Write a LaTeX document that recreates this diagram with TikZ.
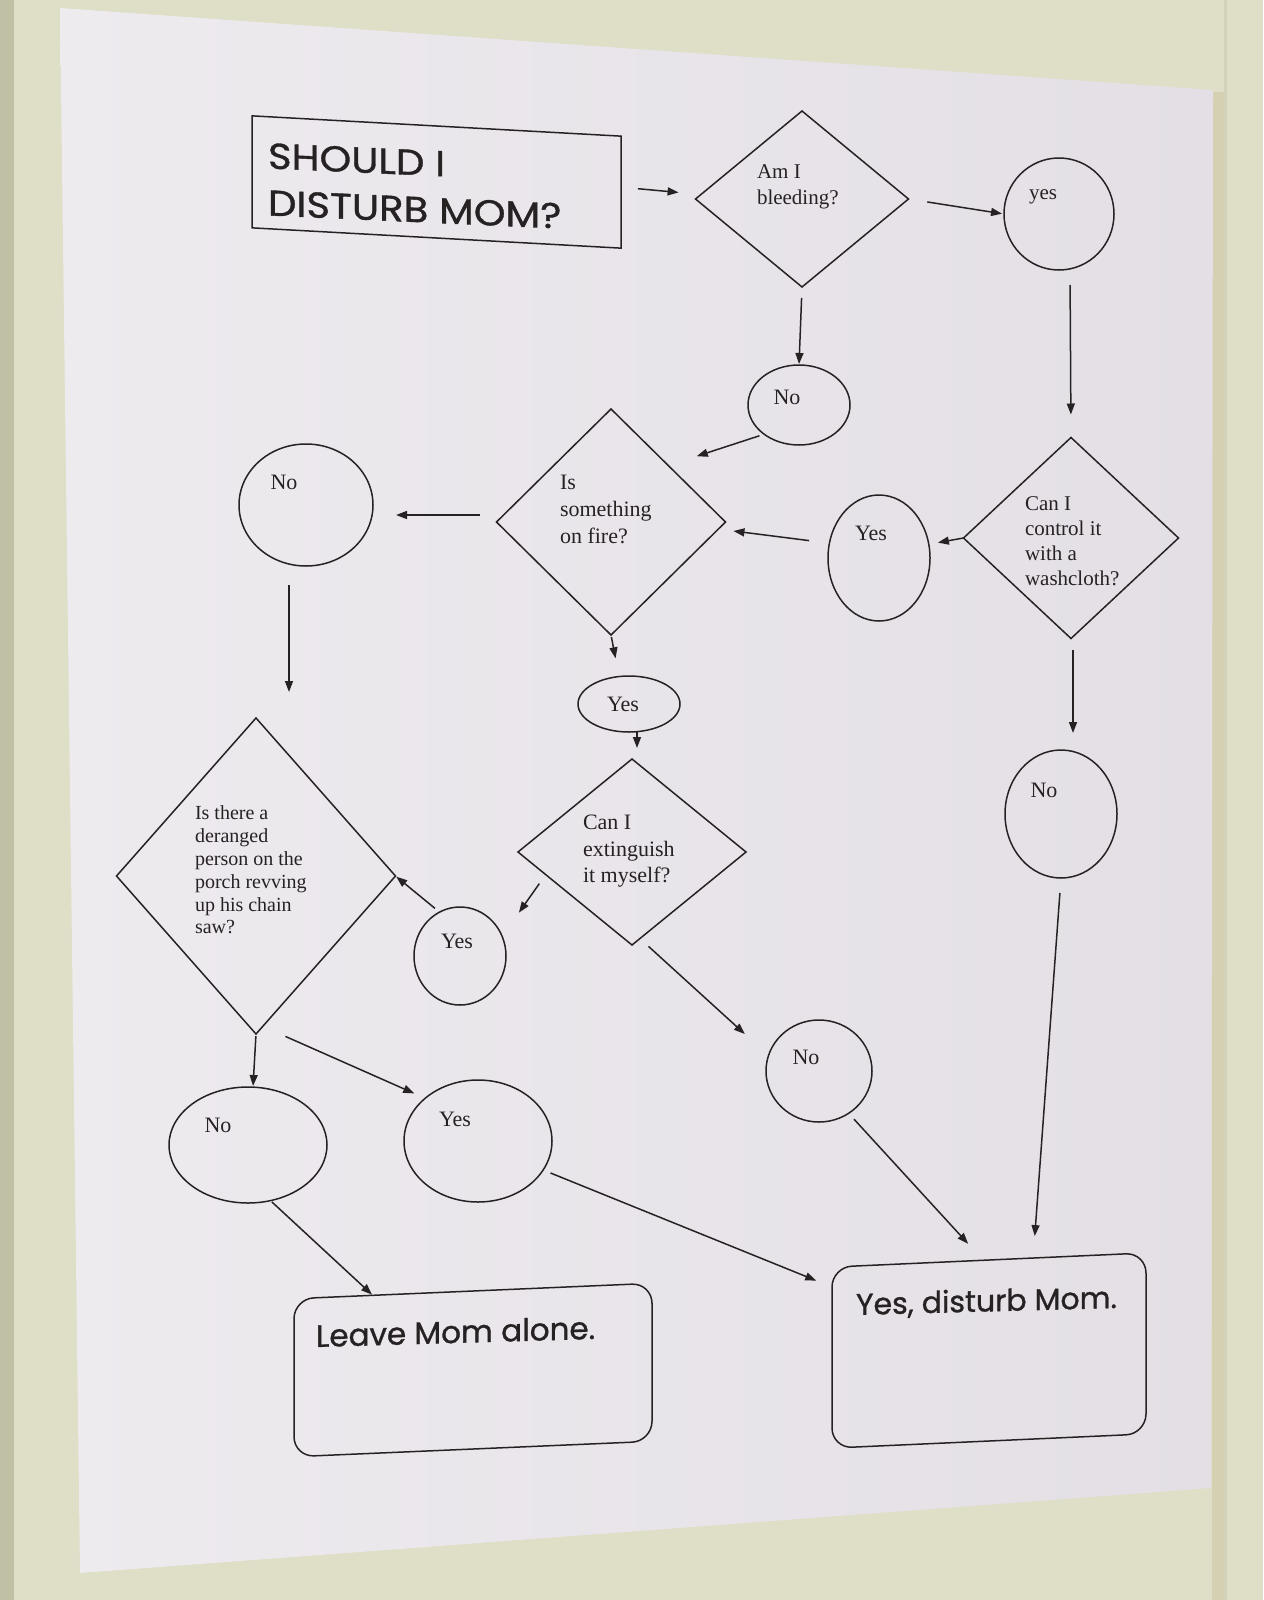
\documentclass[tikz,border=0pt]{standalone}
\usepackage{fontspec}
\setmainfont{Liberation Serif}
\newfontfamily\comicf[FakeBold=1]{Poppins}
\newfontfamily\comicw[FakeBold=1,FakeStretch=1.12]{Poppins}
\usetikzlibrary{shapes.geometric,arrows.meta,calc}
\definecolor{wallc}{RGB}{223,222,198}
\definecolor{wallD}{RGB}{192,192,165}
\definecolor{edgec}{RGB}{214,208,178}
\definecolor{paperL}{RGB}{238,235,239}
\definecolor{paperR}{RGB}{227,223,229}
\definecolor{inkc}{RGB}{38,34,36}
\begin{document}
\begin{tikzpicture}[x=1pt,y=-1pt,
  every node/.style={inner sep=0pt, outer sep=0pt},
  shp/.style={draw=inkc, line width=1.5pt},
  dia/.style={shp, shape=diamond},
  ell/.style={shp, shape=ellipse},
  rbox/.style={shp, shape=rectangle, rounded corners=20pt},
  arr/.style={draw=inkc, line width=1.5pt, -{Triangle[length=11pt,width=8pt]}},
  lbl/.style={text=inkc, font=\fontsize{22}{26}\selectfont, align=left},
  comic/.style={text=inkc, align=left}]
\useasboundingbox (0,0) rectangle (1263,1600);
% wall and paper
\fill[wallc] (0,0) rectangle (1263,1600);
\fill[wallD] (0,0) rectangle (14,1600);
\fill[wallD!40!wallc] (1224,0) rectangle (1227,1600);
\fill[edgec] (1212,92) rectangle (1224,1600);
\shade[left color=paperL, right color=paperR] (60,8) -- (1213,90) -- (1211,1488) -- (80,1573) -- cycle;

% title
\node[shp, shape=rectangle, minimum width=369pt, minimum height=112pt, yslant=-0.055] (title) at (436.5,182) {};
\node[comic, font=\comicw\fontsize{36}{47}\selectfont, anchor=north west, yslant=-0.045] (titletxt) at (268,143) {SHOULD I\\DISTURB MOM?};

% decisions
\node[dia, minimum width=213pt, minimum height=176pt] (bleed) at (802,199) {};
\node[lbl, font=\fontsize{21}{26}\selectfont, anchor=north west] (bleedtxt) at (757,165) {Am I\\bleeding?};

\node[dia, minimum width=229pt, minimum height=226pt] (fire) at (611,522) {};
\node[lbl, font=\fontsize{22}{27}\selectfont, anchor=north west] (firetxt) at (560,475) {Is\\something\\on fire?};

\node[dia, minimum width=215pt, minimum height=201pt] (wash) at (1071,538) {};
\node[lbl, font=\fontsize{21}{25}\selectfont, anchor=north west] (washtxt) at (1025,497) {Can I\\control it\\with a\\washcloth?};

\node[dia, minimum width=228pt, minimum height=186pt] (ext) at (632,852) {};
\node[lbl, font=\fontsize{22}{26.5}\selectfont, anchor=north west] (exttxt) at (583,815) {Can I\\extinguish\\it myself?};

\node[dia, minimum width=279pt, minimum height=316pt] (der) at (256,876) {};
\node[lbl, font=\fontsize{20}{22.8}\selectfont, anchor=north west] (dertxt) at (195,806) {Is there a\\deranged\\person on the\\porch revving\\up his chain\\saw?};

% answers
\node[ell, minimum width=110pt, minimum height=112pt] (yes1) at (1059,214) {};
\node[lbl, font=\fontsize{21}{26}\selectfont, anchor=base] (yes1txt) at (1043,199) {yes};

\node[ell, minimum width=102pt, minimum height=80pt] (no1) at (799,405) {};
\node[lbl, anchor=base] (no1txt) at (787,404) {No};

\node[ell, minimum width=134pt, minimum height=122pt] (no2) at (306,505) {};
\node[lbl, anchor=base] (no2txt) at (284,489) {No};

\node[ell, minimum width=102pt, minimum height=126pt] (yes2) at (879,558) {};
\node[lbl, anchor=base] (yes2txt) at (871,540) {Yes};

\node[ell, minimum width=102pt, minimum height=56pt] (yes3) at (629,704) {};
\node[lbl, anchor=base] (yes3txt) at (623,711) {Yes};

\node[ell, minimum width=92pt, minimum height=98pt] (yes4) at (460,956) {};
\node[lbl, anchor=base] (yes4txt) at (457,948) {Yes};

\node[ell, minimum width=112pt, minimum height=128pt] (no4) at (1061,814) {};
\node[lbl, anchor=base] (no4txt) at (1044,797) {No};

\node[ell, minimum width=106pt, minimum height=102pt] (no3) at (819,1071) {};
\node[lbl, anchor=base] (no3txt) at (806,1064) {No};

\node[ell, minimum width=158pt, minimum height=116pt] (no5) at (248,1145) {};
\node[lbl, anchor=base] (no5txt) at (218,1132) {No};

\node[ell, minimum width=148pt, minimum height=122pt] (yes5) at (478,1141) {};
\node[lbl, anchor=base] (yes5txt) at (455,1126) {Yes};

% outcomes
\node[rbox, minimum width=358pt, minimum height=158pt, yslant=0.043] (leave) at (473,1370) {};
\node[comic, font=\comicf\fontsize{31}{38}\selectfont, anchor=base west, yslant=0.029] (leavetxt) at (316,1347) {Leave Mom alone.};

\node[rbox, minimum width=314pt, minimum height=181pt, yslant=0.045] (yesbox) at (989,1350.5) {};
\node[comic, font=\comicf\fontsize{30}{36}\selectfont, anchor=base west, yslant=0.027] (yesboxtxt) at (856,1315) {Yes, disturb Mom.};

% connectors
\draw[arr, shorten <=17pt, shorten >=17pt] ([yshift=5pt]title.east) -- ([yshift=5pt]bleed.west);
\draw[arr, shorten <=19pt, shorten >=2pt] (bleed.east) -- (yes1.west);
\draw[arr, shorten <=11pt, shorten >=1pt] (bleed.south) -- (no1.north);
\draw[arr, shorten <=5pt, shorten >=30pt] (no1.220) -- (fire.north east);
\draw[arr, shorten <=17pt, shorten >=23pt] ([yshift=7pt]fire.west) -- ([yshift=-10pt]no2.east);
\draw[arr, shorten <=19pt, shorten >=26pt] ([xshift=-17pt]no2.south) -- ([xshift=33pt]der.north);
\draw[arr, shorten <=15pt, shorten >=23pt] ([xshift=11pt]yes1.south) -- (wash.north);
\draw[arr, shorten <=11pt, shorten >=17pt] ([xshift=2pt]wash.south) -- ([xshift=12pt]no4.north);
\draw[arr, shorten >=8pt] (wash.west) -- ([yshift=14pt]yes2.east);
\draw[arr, shorten <=19pt, shorten >=8pt] ([yshift=15pt]yes2.west) -- ([yshift=-8pt]fire.east);
\draw[arr, shorten <=2pt, shorten >=18pt] (fire.south) -- ([xshift=-10pt]yes3.north);
\draw[arr, shorten >=11pt] ([xshift=8pt]yes3.south) -- ([xshift=5pt]ext.north);
\draw[arr, shorten <=11pt, shorten >=29pt] ($(ext.west)!0.243!(ext.south)$) -- (yes4.25);
\draw[arr, shorten <=6pt, shorten >=1pt] (yes4.115) -- (der.east);
\draw[arr, shorten <=2pt, shorten >=32pt] ([xshift=15pt]ext.south) -- (no3.163);
\draw[arr, shorten <=8pt, shorten >=22pt] (no3.-55) -- ([xshift=-6pt]yesbox.north);
\draw[arr, shorten <=15pt, shorten >=24pt] (no4.south) -- ([xshift=44pt]yesbox.north);
\draw[arr, shorten <=2pt, shorten >=1pt] (der.south) -- ([xshift=5pt]no5.north);
\draw[arr, shorten <=6pt, shorten >=12pt] ([xshift=24pt]der.south) -- (yes5.141);
\draw[arr, shorten <=2pt, shorten >=1pt] (no5.-68) -- ($(leave.north west)!0.22!(leave.north east)$);
\draw[arr, shorten <=8pt, shorten >=17pt] (yes5.-24) -- ($(yesbox.north west)!0.11!(yesbox.south west)$);
\end{tikzpicture}
\end{document}
